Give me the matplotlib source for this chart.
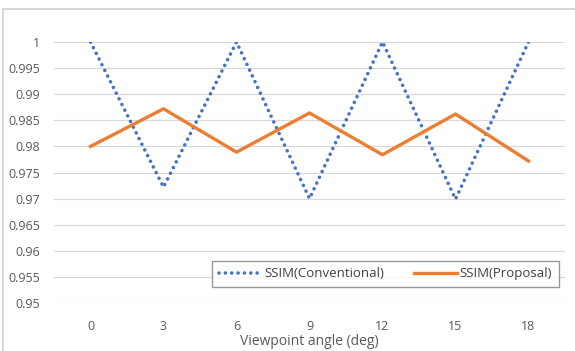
import numpy as np
import matplotlib
matplotlib.use("Agg")
import matplotlib.pyplot as plt
from matplotlib.patches import Rectangle

plt.rcParams["font.family"] = ["Open Sans", "DejaVu Sans"]

angles = ["0", "3", "6", "9", "12", "15", "18"]
ssim_conv = [1.0, 0.9722, 1.0, 0.970, 1.0, 0.9699, 1.0]
ssim_prop = [0.980, 0.9872, 0.9789, 0.9864, 0.9784, 0.9862, 0.9772]
y_ticks = [0.95, 0.955, 0.96, 0.965, 0.97, 0.975, 0.98, 0.985, 0.99, 0.995, 1.0]
y_labels = ["0.95", "0.955", "0.96", "0.965", "0.97", "0.975",
            "0.98", "0.985", "0.99", "0.995", "1"]

fig = plt.figure(figsize=(5.75, 3.51), dpi=100)
ax = fig.add_axes([54 / 575, 1 - 303 / 351, 511 / 575, 261 / 351])

x = np.arange(len(angles))
ax.plot(x, ssim_conv, color="#4472C4", linewidth=2.6, linestyle=(0, (0.01, 1.75)),
        dash_capstyle="round", label="SSIM(Conventional)", zorder=3)
ax.plot(x, ssim_prop, color="#ED7D31", linewidth=2.4,
        label="SSIM(Proposal)", zorder=3)

ax.set_xlim(-0.5, len(angles) - 0.5)
ax.set_ylim(0.95, 1.0)
ax.set_xticks(x)
ax.set_xticklabels(angles)
ax.set_yticks(y_ticks)
ax.set_yticklabels(y_labels)
ax.grid(axis="y", color="#d9d9d9", linewidth=0.9)
ax.set_axisbelow(True)
for s in ax.spines.values():
    s.set_visible(False)
ax.tick_params(length=0, labelsize=9, labelcolor="#595959")
ax.tick_params(axis="y", pad=10)
ax.tick_params(axis="x", pad=12)
ax.set_xlabel("Viewpoint angle (deg)", fontsize=10, color="#595959", labelpad=1)

leg = ax.legend(loc="lower right", bbox_to_anchor=(0.988, 0.061), ncol=2,
                fontsize=9.5, frameon=True, fancybox=False, handlelength=3.3,
                columnspacing=2.2, handletextpad=0.2, borderaxespad=0,
                borderpad=0.5)
leg.get_frame().set_edgecolor("#808080")
leg.get_frame().set_linewidth(1.0)
for t in leg.get_texts():
    t.set_color("#404040")

fig.patches.append(Rectangle((3 / 575, -0.05), 1.0, 1 - 9 / 351 + 0.05,
                             transform=fig.transFigure, fill=False,
                             edgecolor="#d9d9d9", linewidth=1.5))

fig.savefig("out.png", dpi=100)
